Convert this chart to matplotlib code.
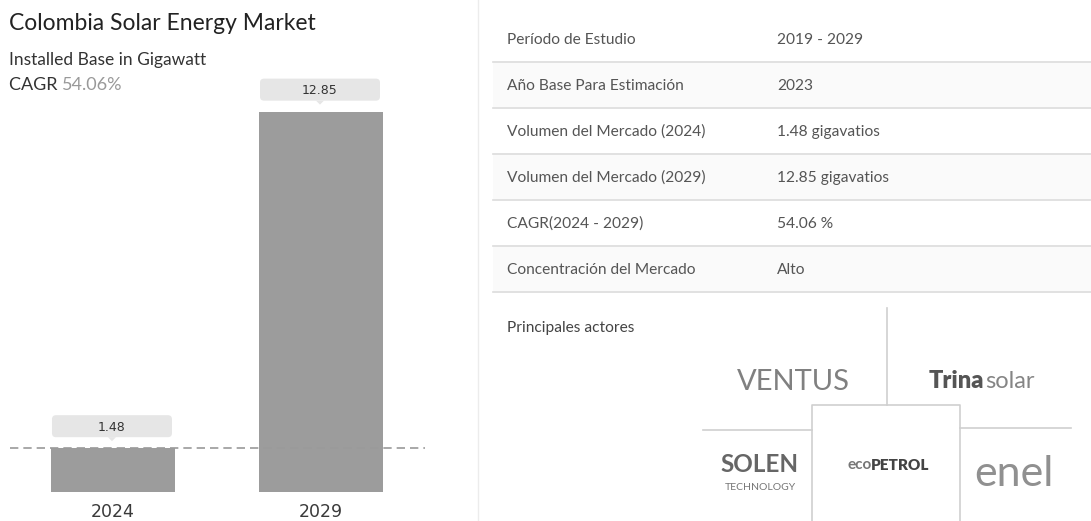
import matplotlib
matplotlib.use("Agg")
import matplotlib.pyplot as plt
from matplotlib.patches import FancyBboxPatch, Polygon, Rectangle

# ---------------- data ----------------
years = ["2024", "2029"]
values = [1.48, 12.85]
value_labels = ["1.48", "12.85"]
title = "Colombia Solar Energy Market"
subtitle = "Installed Base in Gigawatt"
cagr_label = "CAGR"
cagr_value = "54.06%"
table_labels = ["Período de Estudio", "Año Base Para Estimación",
                "Volumen del Mercado (2024)", "Volumen del Mercado (2029)",
                "CAGR(2024 - 2029)", "Concentración del Mercado"]
table_values = ["2019 - 2029", "2023", "1.48 gigavatios", "12.85 gigavatios",
                "54.06 %", "Alto"]
players_title = "Principales actores"

W, H = 1091, 521
plt.rcParams['font.family'] = ['Lato', 'DejaVu Sans']
fig = plt.figure(figsize=(W / 100, H / 100), dpi=100)
fig.patch.set_facecolor("white")

# ---------------- bar chart ----------------
ax_l, ax_r, ax_b, ax_t = 10, 425, 492, 100
ax = fig.add_axes([ax_l / W, (H - ax_b) / H, (ax_r - ax_l) / W, (ax_b - ax_t) / H])
ppu = 29.6
ax.set_ylim(0, (ax_b - ax_t) / ppu)
ax.set_xlim(-0.495, 1.5)
bars = ax.bar(range(len(years)), values, width=0.596, color="#9c9c9c", zorder=2)
ax.axhline(values[0], color="#9a9a9a", lw=1.2, ls=(0, (5, 3)), zorder=3)
ax.set_xticks(range(len(years)))
ax.set_xticklabels(years, fontsize=12.5, color="#3a3a3a", family=['DejaVu Sans'])
ax.tick_params(axis="x", length=0, pad=8)
ax.set_yticks([])
for s in ax.spines.values():
    s.set_visible(False)
ax.patch.set_alpha(0)

# ---------------- overlay (pixel coordinates) ----------------
ov = fig.add_axes([0, 0, 1, 1], zorder=5)
ov.set_xlim(0, W)
ov.set_ylim(H, 0)
ov.axis("off")
ov.patch.set_alpha(0)

fig.canvas.draw()
inv = ov.transData.inverted()
for i, (v, lab) in enumerate(zip(values, value_labels)):
    b = bars[i]
    x0, y0 = inv.transform(ax.transData.transform((b.get_x(), v)))
    x1, _ = inv.transform(ax.transData.transform((b.get_x() + b.get_width(), v)))
    bx0, bx1 = x0 + 1, x1 - 3
    btop, bbot = y0 - 33, y0 - 11
    ov.add_patch(FancyBboxPatch((bx0, btop), bx1 - bx0, bbot - btop,
                                boxstyle="round,pad=0,rounding_size=4",
                                fc="#e6e6e6", ec="none", zorder=3))
    cx = (bx0 + bx1) / 2
    ov.add_patch(Polygon([[cx - 4, bbot], [cx + 4, bbot], [cx, bbot + 4]],
                         closed=True, fc="#e6e6e6", ec="none", zorder=3))
    ov.text(cx, (btop + bbot) / 2 + 1, lab, ha="center", va="center",
            fontsize=9, color="#333333", family=['DejaVu Sans'], zorder=4)

# titles
ov.text(9, 24, title, fontsize=16.5, color="#222222", va="center", ha="left")
ov.text(9, 60, subtitle, fontsize=12.5, color="#333333", va="center", ha="left")
t = ov.text(9, 85, cagr_label + " ", fontsize=13, color="#333333", va="center", ha="left")
fig.canvas.draw()
bb = t.get_window_extent()
xe = inv.transform((bb.x1, 0))[0]
ov.text(xe, 85, cagr_value, fontsize=13, color="#999999", va="center", ha="left")

# separator between panels
ov.plot([478, 478], [0, H], color="#ececec", lw=1)

# ---------------- table ----------------
row_y = [40, 86, 132, 178, 224, 270]
for i, (lab, val) in enumerate(zip(table_labels, table_values)):
    y = row_y[i]
    if i % 2 == 1:
        ov.add_patch(Rectangle((493, y - 23), W - 493, 46, fc="#fafafa", ec="none", zorder=0))
    ov.text(507, y, lab, fontsize=11.2, color="#555555", va="center", ha="left")
    ov.text(777, y, val, fontsize=11.2, color="#555555", va="center", ha="left")
    ov.plot([493, W], [y + 22, y + 22], color="#dcdcdc", lw=1.2)

ov.text(507, 328, players_title, fontsize=11.2, color="#444444", va="center", ha="left")

# ---------------- player logos (as text) ----------------
lc = "#cfcfcf"
ov.plot([887, 887], [308, 405], color=lc, lw=1.2)
ov.plot([703, 812], [430, 430], color=lc, lw=1.2)
ov.plot([960, 1071], [428, 428], color=lc, lw=1.2)
ov.plot([812, 812, 960, 960], [H, 405, 405, H], color=lc, lw=1.2)

ov.text(793, 382, "VENTUS", fontsize=21, color="#808080", va="center", ha="center",
        fontweight="normal")
tt = ov.text(929, 381, "Trina", fontsize=17, color="#555555", va="center", ha="left",
             fontweight="heavy")
fig.canvas.draw()
bb = tt.get_window_extent()
xe = inv.transform((bb.x1, 0))[0]
ov.text(xe + 1, 382, "solar", fontsize=17, color="#858585", va="center", ha="left",
        fontweight="normal")
ov.text(760, 465, "SOLEN", fontsize=17.5, color="#666666", va="center", ha="center",
        fontweight="bold")
ov.text(760, 487, "TECHNOLOGY", fontsize=7.5, color="#777777", va="center", ha="center")
ov.text(872, 465, "eco", fontsize=11, color="#777777",
        va="center", ha="right", fontweight="bold")
ov.text(871, 465, "PETROL", fontsize=11, color="#444444", va="center", ha="left",
        fontweight="heavy")
ov.text(1014, 474, "enel", fontsize=31, color="#909090", va="center", ha="center",
        fontweight="normal")

fig.savefig("out.png", dpi=100, facecolor="white")
